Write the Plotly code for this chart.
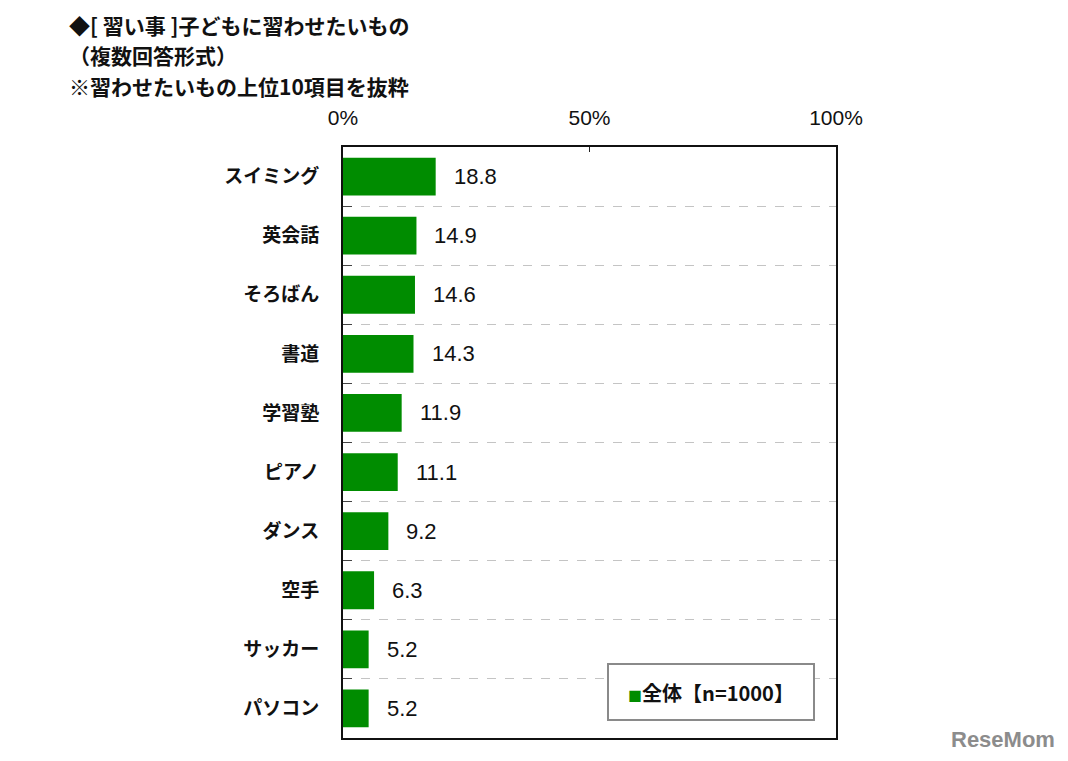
import plotly.graph_objects as go

categories = ["スイミング", "英会話", "そろばん", "書道", "学習塾", "ピアノ", "ダンス", "空手", "サッカー", "パソコン"]
values = [18.8, 14.9, 14.6, 14.3, 11.9, 11.1, 9.2, 6.3, 5.2, 5.2]
tick_vals = [0, 50, 100]
tick_labels = ["0%", "50%", "100%"]
series_name = "全体【n=1000】"
title_lines = ["◆[ 習い事 ]子どもに習わせたいもの", "（複数回答形式）", "※習わせたいもの上位10項目を抜粋"]

GREEN = "#008c00"
JP = "Noto Sans CJK JP"

# page offset (browser body margin)
OFF = 8
W, H = 1068, 761
l, r, t, b = 343 - OFF, 232 + OFF, 147 - OFF, 23 + OFF
pw, ph = W - l - r, H - t - b


def px(xs):
    return (xs - OFF - l) / pw


def py(ys):
    return (H - b - (ys - OFF)) / ph


fig = go.Figure()
fig.add_trace(go.Bar(
    x=values, y=categories, orientation="h",
    marker=dict(color=GREEN, line=dict(width=0)),
    width=0.64, name=series_name, showlegend=False,
))

for c, v in zip(categories, values):
    fig.add_annotation(x=v, y=c, xref="x", yref="y", text=f"{v:.1f}",
                       showarrow=False, xanchor="left", xshift=16,
                       font=dict(family="Liberation Sans, Arial", size=22, color="#111"))

fig.update_layout(
    width=W, height=H,
    margin=dict(l=l, r=r, t=t, b=b),
    paper_bgcolor="white", plot_bgcolor="white",
    xaxis=dict(side="top", range=[0, 100], tickvals=tick_vals, ticktext=tick_labels,
               ticks="inside", ticklen=5, tickcolor="#222", tickwidth=1,
               ticklabelstandoff=12,
               showgrid=False, zeroline=False,
               showline=True, linecolor="#111", linewidth=2, mirror=True,
               tickfont=dict(family="Liberation Sans, Arial", size=21, color="#111")),
    yaxis=dict(categoryorder="array", categoryarray=categories, autorange="reversed",
               tickson="boundaries", ticks="inside", ticklen=9, tickcolor="#444",
               showgrid=True, gridcolor="#c4c4c4", griddash="dash", gridwidth=1,
               showline=True, linecolor="#111", linewidth=2, mirror=True,
               ticklabelstandoff=18,
               tickfont=dict(family=JP, size=19, color="#111", weight="bold")),
    font=dict(family=JP),
)

for i, line in enumerate(title_lines):
    fig.add_annotation(x=px(67), y=py(25 + 30.5 * i), xref="paper", yref="paper",
                       text=f"<b>{line}</b>",
                       showarrow=False, xanchor="left", yanchor="middle",
                       font=dict(family=JP, size=21, color="#111"))

# legend box
fig.add_annotation(
    x=px(815), y=py(721), xref="paper", yref="paper",
    xanchor="right", yanchor="bottom",
    text=f"<span style='color:{GREEN};font-size:14px'>■</span><b>{series_name}</b>",
    showarrow=False, width=204, height=54, align="center",
    bordercolor="#8a8a8a", borderwidth=2, borderpad=0, bgcolor="white",
    font=dict(family=JP, size=20, color="#111"),
)

# watermark
fig.add_annotation(
    x=px(1057), y=py(739), xref="paper", yref="paper",
    xanchor="right", yanchor="middle", text="<b>ReseMom</b>", showarrow=False,
    font=dict(family="Liberation Sans", size=22, color="#8c8c8c"),
)

fig.write_html("out.html")
